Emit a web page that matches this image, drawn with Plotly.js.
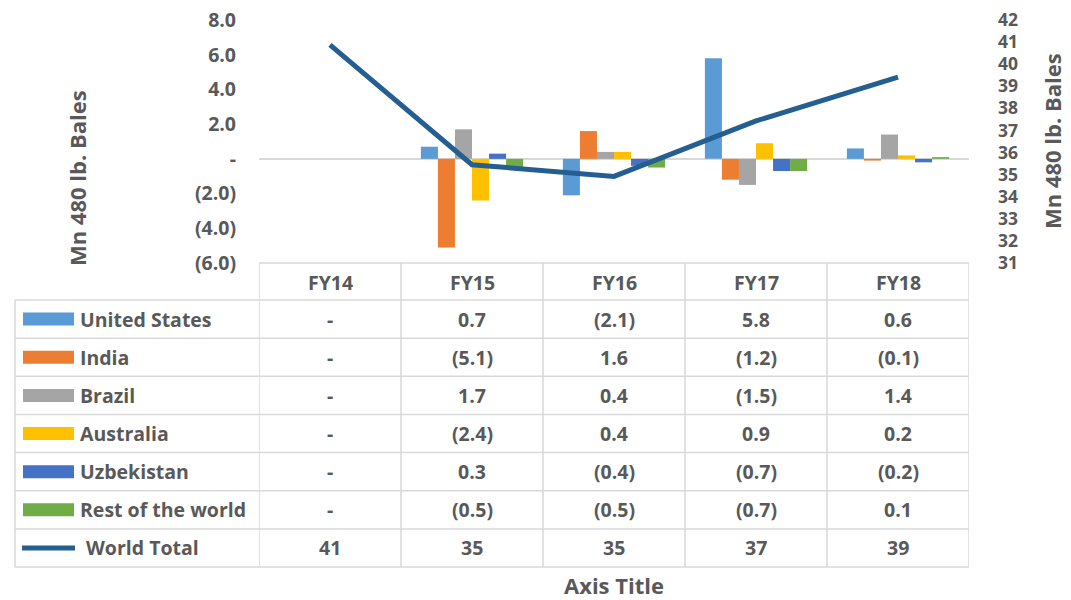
<!DOCTYPE html>
<html><head><meta charset="utf-8">
<script src="https://cdn.plot.ly/plotly-3.0.1.min.js"></script>
<style>html,body{margin:0;padding:0;background:#fff}</style>
</head><body><div id="chart" style="width:1071px;height:600px"></div>
<script>
// ---- data ----
const years = ['FY14', 'FY15', 'FY16', 'FY17', 'FY18'];
const unitedStates = [0, 0.7, -2.1, 5.8, 0.6];
const india = [0, -5.1, 1.6, -1.2, -0.1];
const brazil = [0, 1.7, 0.4, -1.5, 1.4];
const australia = [0, -2.4, 0.4, 0.9, 0.2];
const uzbekistan = [0, 0.3, -0.4, -0.7, -0.2];
const restOfWorld = [0, -0.5, -0.5, -0.7, 0.1];
const worldTotal = [40.87, 35.45, 34.92, 37.43, 39.41];
const seriesNames = ['United States', 'India', 'Brazil', 'Australia', 'Uzbekistan', 'Rest of the world'];
const lineName = 'World Total';
const leftTicks = [-6, -4, -2, 0, 2, 4, 6, 8];
const rightTicks = [31, 32, 33, 34, 35, 36, 37, 38, 39, 40, 41, 42];
const yTitle = 'Mn 480 lb. Bales';
const xTitle = 'Axis Title';

// ---- styling ----
const barSeries = [unitedStates, india, brazil, australia, uzbekistan, restOfWorld];
const colors = ['#5B9BD5', '#ED7D31', '#A5A5A5', '#FFC000', '#4472C4', '#70AD47'];
const lineColor = '#255E91';
const txt = '#595959';
const grid = '#D9D9D9';
const FONT = '"Open Sans", Lato, sans-serif';
const W = 1071, H = 600;
const L = 259, R = 969, T = 20, B = 263;
const px = x => (x - L) / (R - L);
const py = y => (B - y) / (B - T);

function fmt1(v) {
  if (v === 0) return '-';
  return v < 0 ? '(' + Math.abs(v).toFixed(1) + ')' : v.toFixed(1);
}
function fmt0(v) { return v === 0 ? '-' : v.toFixed(0); }

const traces = barSeries.map((vals, i) => ({
  type: 'bar', name: seriesNames[i], x: years, y: vals,
  marker: {color: colors[i], line: {width: 0}}, yaxis: 'y', hoverinfo: 'skip'
}));
traces.push({
  type: 'scatter', mode: 'lines', name: lineName, x: years, y: worldTotal,
  yaxis: 'y2', line: {color: lineColor, width: 5}, hoverinfo: 'skip'
});

const shapes = [];
const annotations = [];
const rowTop = 300, rowH = 38.15;
const nRows = seriesNames.length + 1;
const tableBottom = rowTop + rowH * nRows;
const lineStyle = {color: grid, width: 1.5};

// header top line
shapes.push({type: 'line', xref: 'paper', yref: 'paper', x0: px(L), x1: px(R), y0: py(B), y1: py(B), line: lineStyle});
// row lines
for (let r = 0; r <= nRows; r++) {
  const y = rowTop + r * rowH;
  shapes.push({type: 'line', xref: 'paper', yref: 'paper', x0: px(15), x1: px(R), y0: py(y), y1: py(y), line: lineStyle});
}
// vertical lines
shapes.push({type: 'line', xref: 'paper', yref: 'paper', x0: px(15), x1: px(15), y0: py(rowTop), y1: py(tableBottom), line: lineStyle});
for (let c = 0; c <= years.length; c++) {
  shapes.push({type: 'line', xref: 'x', yref: 'paper', x0: c - 0.5, x1: c - 0.5, y0: py(B), y1: py(tableBottom), line: lineStyle});
}

const tf = {family: FONT, size: 19.5, color: txt, weight: 'bold'};
// header labels
years.forEach(yr => annotations.push({xref: 'x', yref: 'paper', x: yr, y: py(282), text: '<b>' + yr + '</b>', showarrow: false, font: tf, xanchor: 'center', yanchor: 'middle'}));
// rows
seriesNames.forEach((nm, i) => {
  const cy = rowTop + rowH * (i + 0.5);
  shapes.push({type: 'rect', xref: 'paper', yref: 'paper', x0: px(23), x1: px(74), y0: py(cy - 6.5), y1: py(cy + 6.5), fillcolor: colors[i], line: {width: 0}});
  annotations.push({xref: 'paper', yref: 'paper', x: px(78), y: py(cy), text: '<b>' + nm + '</b>', showarrow: false, font: tf, xanchor: 'left', yanchor: 'middle'});
  barSeries[i].forEach((v, j) => annotations.push({xref: 'x', yref: 'paper', x: years[j], y: py(cy), text: '<b>' + fmt1(v) + '</b>', showarrow: false, font: tf, xanchor: 'center', yanchor: 'middle'}));
});
{
  const cy = rowTop + rowH * (seriesNames.length + 0.5);
  shapes.push({type: 'line', xref: 'paper', yref: 'paper', x0: px(22), x1: px(75), y0: py(cy), y1: py(cy), line: {color: lineColor, width: 5}});
  annotations.push({xref: 'paper', yref: 'paper', x: px(84), y: py(cy), text: '<b>' + lineName + '</b>', showarrow: false, font: tf, xanchor: 'left', yanchor: 'middle'});
  worldTotal.forEach((v, j) => annotations.push({xref: 'x', yref: 'paper', x: years[j], y: py(cy), text: '<b>' + fmt0(v) + '</b>', showarrow: false, font: tf, xanchor: 'center', yanchor: 'middle'}));
}
// axis titles
const titleFont = {family: FONT, size: 22, color: txt, weight: 'bold'};
annotations.push({xref: 'paper', yref: 'paper', x: px(77), y: py(178), text: '<b>' + yTitle + '</b>', textangle: -90, showarrow: false, font: titleFont, xanchor: 'center', yanchor: 'middle'});
annotations.push({xref: 'paper', yref: 'paper', x: px(1052), y: py(141), text: '<b>' + yTitle + '</b>', textangle: -90, showarrow: false, font: titleFont, xanchor: 'center', yanchor: 'middle'});
annotations.push({xref: 'paper', yref: 'paper', x: px(614), y: py(585), text: '<b>' + xTitle + '</b>', showarrow: false, font: titleFont, xanchor: 'center', yanchor: 'middle'});

const tickFont = {family: FONT, size: 19.5, color: txt, weight: 'bold'};
const tickFont2 = {family: FONT, size: 17.5, color: txt, weight: 'bold'};
const layout = {
  width: W, height: H,
  margin: {l: L, r: W - R, t: T, b: H - B, pad: 0},
  paper_bgcolor: '#ffffff', plot_bgcolor: '#ffffff',
  showlegend: false, barmode: 'group', bargap: 0.28, bargroupgap: 0,
  font: {family: FONT, color: txt},
  xaxis: {type: 'category', range: [-0.5, years.length - 0.5], showticklabels: false, showgrid: false, zeroline: false, showline: false, ticks: ''},
  yaxis: {range: [leftTicks[0], leftTicks[leftTicks.length - 1]], tickvals: leftTicks, ticktext: leftTicks.map(fmt1), tickfont: tickFont, showgrid: false, zeroline: true, zerolinecolor: grid, zerolinewidth: 1.5, showline: false, ticks: '', ticklabelstandoff: 22},
  yaxis2: {overlaying: 'y', side: 'right', range: [rightTicks[0], rightTicks[rightTicks.length - 1]], tickvals: rightTicks, tickfont: tickFont2, showgrid: false, zeroline: false, showline: false, ticks: '', ticklabelstandoff: 28},
  shapes: shapes, annotations: annotations
};
Plotly.newPlot('chart', traces, layout, {staticPlot: true, displayModeBar: false});
</script></body></html>
